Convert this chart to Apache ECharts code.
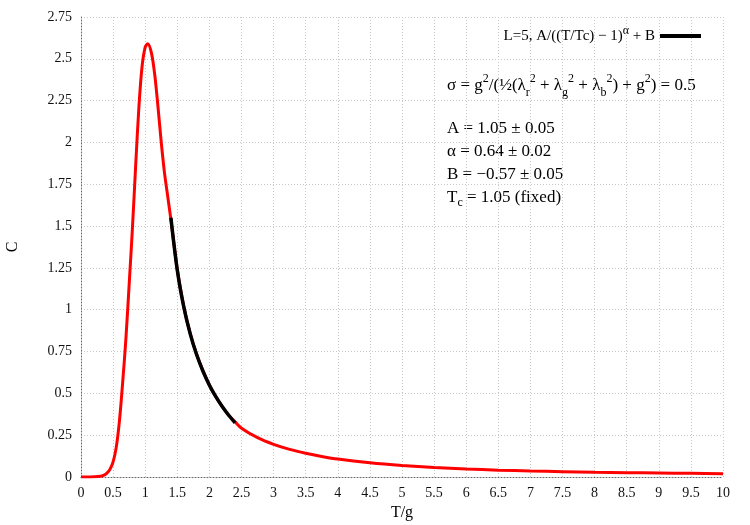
<!DOCTYPE html>
<html>
<head>
<meta charset="utf-8">
<script src="https://cdn.jsdelivr.net/npm/echarts@6/dist/echarts.min.js"></script>
<style>
  html, body { margin: 0; padding: 0; background: #fff; }
  #chart { width: 750px; height: 525px; }
</style>
</head>
<body>
<div id="chart"></div>
<script>
// measured curve C(T/g), L=5
var dataT = [0, 0.1, 0.2, 0.3, 0.35, 0.4, 0.45, 0.5, 0.55, 0.6, 0.65, 0.7, 0.75, 0.8, 0.85, 0.9, 0.95, 1.0, 1.04, 1.1, 1.15, 1.2, 1.25, 1.3, 1.35, 1.4,
             1.5, 1.6, 1.7, 1.8, 1.9, 2.0, 2.1, 2.2, 2.3, 2.4, 2.5, 2.75, 3, 3.25, 3.5, 3.75, 4, 4.5, 5, 5.5, 6, 6.5, 7, 7.5, 8, 8.5, 9, 9.5, 10];
var dataC = [0, 0, 0.001, 0.004, 0.01, 0.022, 0.045, 0.09, 0.18, 0.34, 0.57, 0.83, 1.15, 1.48, 1.85, 2.2, 2.45, 2.57, 2.59, 2.53, 2.4, 2.21, 2.0, 1.82, 1.68, 1.54,
             1.24, 1.02, 0.86, 0.735, 0.635, 0.55, 0.48, 0.42, 0.37, 0.33, 0.292, 0.235, 0.195, 0.165, 0.142, 0.123, 0.107, 0.085, 0.069, 0.057, 0.048, 0.041, 0.036, 0.032, 0.028, 0.026, 0.024, 0.022, 0.02];

// fitted curve, black
var fitT = [1.4, 1.5, 1.6, 1.7, 1.8, 1.9, 2.0, 2.1, 2.2, 2.3, 2.4];
var fitC = [1.55, 1.236, 1.018, 0.857, 0.732, 0.632, 0.549, 0.48, 0.421, 0.369, 0.324];

var xMin = 0, xMax = 10, xStep = 0.5;
var yMin = 0, yMax = 2.75, yStep = 0.25;

var fitName = 'L=5, A/((T/Tc) \u2212 1){sup|\u03b1} + B';

var FONT = 'Liberation Serif';

function pairs(xs, ys) {
  return xs.map(function (x, i) { return [x, ys[i]]; });
}

var chart = echarts.init(document.getElementById('chart'));

var gridLine = { show: true, lineStyle: { color: '#c8c8c8', type: [1, 2], width: 1 } };
var richSmall = {
  sup: { fontFamily: FONT, fontSize: 12, verticalAlign: 'top', lineHeight: 13, fill: '#000' },
  sub: { fontFamily: FONT, fontSize: 12, verticalAlign: 'bottom', lineHeight: 13, fill: '#000' }
};

chart.setOption({
  backgroundColor: '#fff',
  animation: false,
  grid: { left: 81, right: 27, top: 17, bottom: 48, outerBoundsMode: 'none' },
  xAxis: {
    type: 'value', min: xMin, max: xMax, interval: xStep,
    name: 'T/g', nameLocation: 'middle', nameGap: 28,
    nameTextStyle: { fontFamily: FONT, fontSize: 16, color: '#000' },
    axisLine: { show: true, lineStyle: { color: '#666', type: [1, 2] } },
    axisTick: { show: false },
    axisLabel: { fontFamily: FONT, fontSize: 14, color: '#111', margin: 9 },
    splitLine: gridLine
  },
  yAxis: {
    type: 'value', min: yMin, max: yMax, interval: yStep,
    name: 'C', nameLocation: 'middle', nameGap: 60,
    nameTextStyle: { fontFamily: FONT, fontSize: 16, color: '#000' },
    axisLine: { show: true, lineStyle: { color: '#666', type: [1, 2] } },
    axisTick: { show: false },
    axisLabel: { fontFamily: FONT, fontSize: 14, color: '#111', margin: 9 },
    splitLine: gridLine
  },
  legend: {
    data: [fitName],
    right: 44, top: 20,
    align: 'right',
    icon: 'rect', itemWidth: 41, itemHeight: 4, itemGap: 8,
    textStyle: {
      fontFamily: FONT, fontSize: 15, color: '#000', lineHeight: 22,
      rich: {
        sup: { fontFamily: FONT, fontSize: 12, verticalAlign: 'top', lineHeight: 12, color: '#000' }
      }
    }
  },
  graphic: [{
    type: 'text', left: 447, top: 73,
    style: {
      text: '\u03c3 = g{sup|2}/(\u00bd(\u03bb{sub|r}{sup|2} + \u03bb{sub|g}{sup|2} + \u03bb{sub|b}{sup|2}) + g{sup|2}) = 0.5',
      fontFamily: FONT, fontSize: 17, lineHeight: 26, fill: '#000',
      rich: richSmall
    }
  }, {
    type: 'text', left: 447, top: 117,
    style: {
      text: 'A = 1.05 \u00b1 0.05\n\u03b1 = 0.64 \u00b1 0.02\nB = \u22120.57 \u00b1 0.05\nT{sub|c} = 1.05 (fixed)',
      fontFamily: FONT, fontSize: 17, lineHeight: 23, fill: '#000',
      rich: richSmall
    }
  }],
  series: [{
    name: 'data',
    type: 'line',
    data: pairs(dataT, dataC),
    showSymbol: false,
    smooth: 0.3,
    lineStyle: { color: '#ff0000', width: 3 },
    itemStyle: { color: '#ff0000' },
    z: 2
  }, {
    name: fitName,
    type: 'line',
    data: pairs(fitT, fitC),
    showSymbol: false,
    smooth: 0.3,
    lineStyle: { color: '#000', width: 3.5 },
    itemStyle: { color: '#000' },
    z: 3
  }]
});
</script>
</body>
</html>
